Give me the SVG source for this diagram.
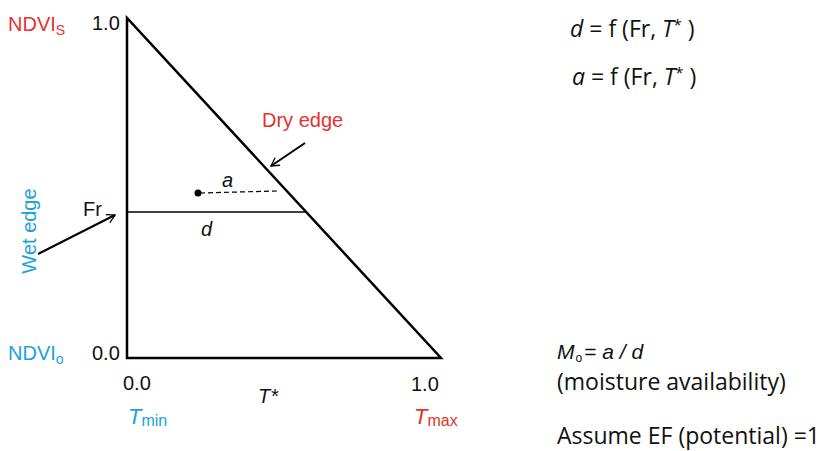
<svg xmlns="http://www.w3.org/2000/svg" width="825" height="451" viewBox="0 0 825 451">
<defs>
<marker id="open" markerWidth="12" markerHeight="12" refX="10" refY="6" orient="auto" markerUnits="userSpaceOnUse">
<path d="M2,1.5 L10,6 L2,10.5" fill="none" stroke="#000" stroke-width="1.3"/>
</marker>
</defs>
<style>
text{font-family:"Liberation Sans",Arial,sans-serif;font-size:20px;fill:#111}
.r{fill:#e5322d}
.b{fill:#1ea1dc}
.i{font-style:italic}
.c{font-family:"Open Sans","Liberation Sans",sans-serif;font-size:23px}
.ax{stroke:#000;stroke-width:2.5;fill:none}
</style>
<rect width="825" height="451" fill="#fff"/>
<g id="triangle">
<path class="ax" d="M127,18 L127,358 L441,358 Z"/>
</g>
<g id="connectors">
<line x1="127" y1="212" x2="306" y2="212" stroke="#000" stroke-width="1.5"/>
<line x1="200" y1="193" x2="277" y2="191" stroke="#000" stroke-width="1.2" stroke-dasharray="5,3"/>
<circle cx="198" cy="193" r="3.5" fill="#000"/>
<line x1="305" y1="143" x2="271" y2="166" stroke="#000" stroke-width="2" marker-end="url(#open)"/>
<line x1="38" y1="254" x2="115" y2="215" stroke="#000" stroke-width="2" marker-end="url(#open)"/>
</g>
<g id="labels">
<text x="8" y="31" class="r">NDVI<tspan font-size="14" dy="4">S</tspan></text>
<text x="92" y="30">1.0</text>
<text x="83" y="216">Fr</text>
<text transform="translate(36,231) rotate(-90)" text-anchor="middle" class="b">Wet edge</text>
<text x="262" y="127" class="r">Dry edge</text>
<text x="222" y="187" class="i">a</text>
<text x="201" y="236" class="i">d</text>
<text x="8" y="360" class="b">NDVI<tspan font-size="14" dy="4">o</tspan></text>
<text x="92" y="360">0.0</text>
<text x="123" y="390">0.0</text>
<text x="258" y="403" class="i">T*</text>
<text x="411" y="391">1.0</text>
<text x="128" y="424" class="b"><tspan class="i" font-size="22">T</tspan><tspan font-size="16" dy="2">min</tspan></text>
<text x="414" y="424" class="r"><tspan class="i" font-size="22">T</tspan><tspan font-size="16" dy="2">max</tspan></text>
</g>
<g id="equations">
<text x="570" y="37" class="c"><tspan class="i">d</tspan>  = f (Fr, <tspan class="i">T</tspan><tspan style="font-size:15px" dy="-7">*</tspan><tspan dy="7"> )</tspan></text>
<text x="572" y="85" class="c"><tspan class="i">a</tspan> = f (Fr, <tspan class="i">T</tspan><tspan style="font-size:15px" dy="-7">*</tspan><tspan dy="7"> )</tspan></text>
<text x="557" y="359" style="font-size:21px"><tspan class="i">M</tspan><tspan style="font-size:12px" dx="1" dy="3">o</tspan><tspan dx="2" dy="-3">=  </tspan><tspan class="i">a / d</tspan></text>
<text x="557" y="390" class="c">(moisture availability)</text>
<text x="557" y="444" class="c">Assume EF (potential) =1</text>
</g>
</svg>
